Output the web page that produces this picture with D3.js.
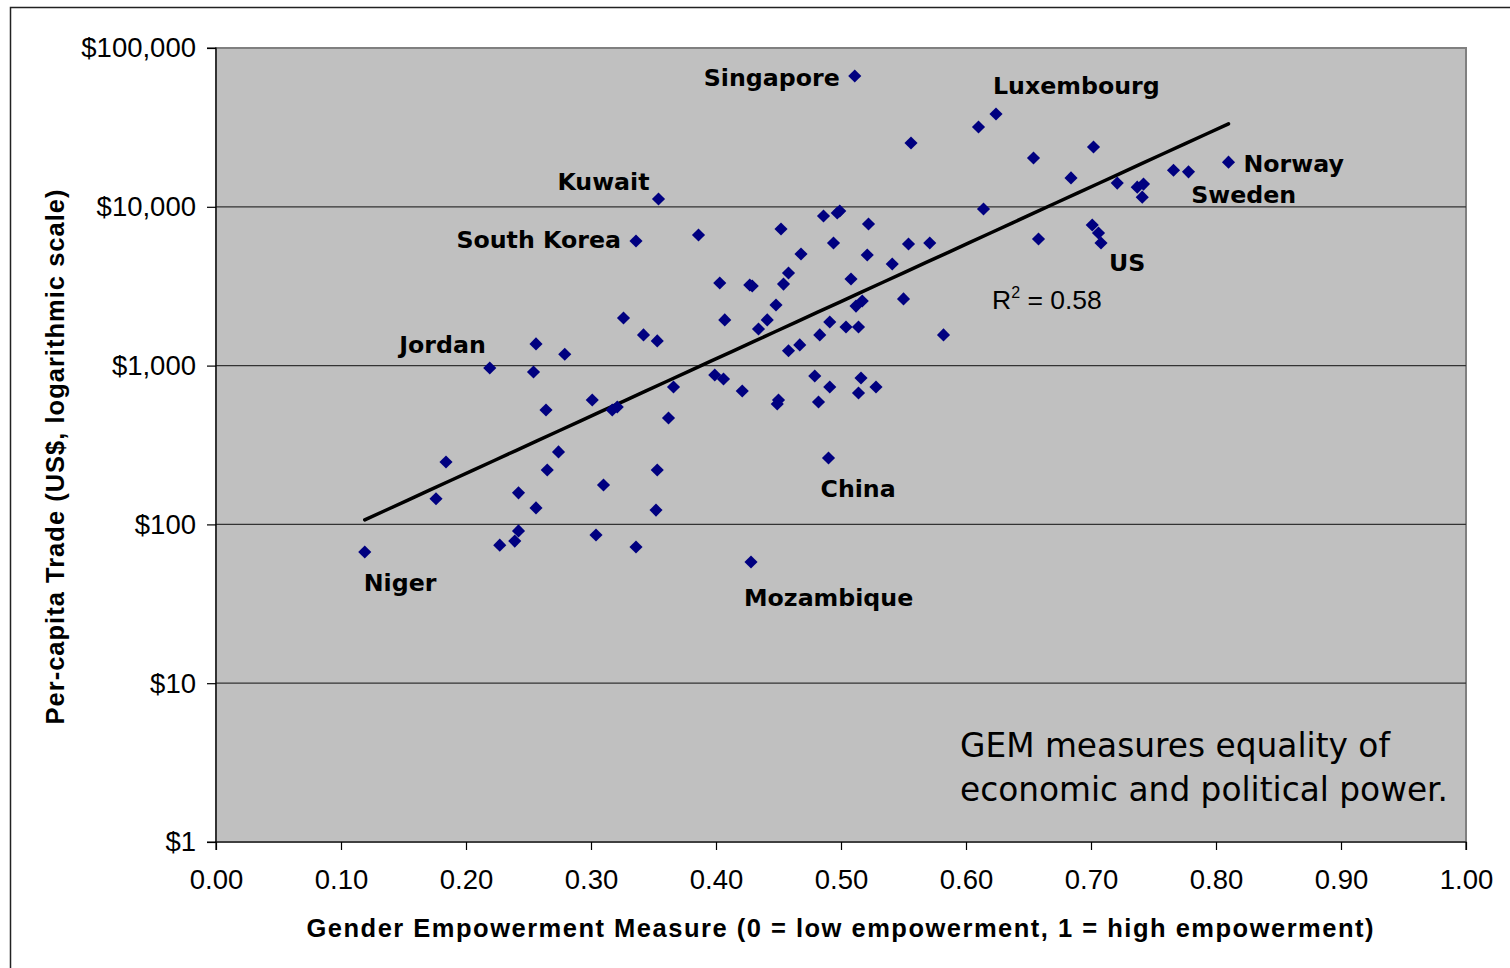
<!DOCTYPE html>
<html lang="en">

<head>
  <meta charset="UTF-8">
  <title>Per-capita Trade vs Gender Empowerment Measure</title>
  <script src="https://d3js.org/d3.v7.min.js"></script>
  <style>
    body { margin: 0; background: #fff; }
    svg { display: block; }
  </style>
</head>

<body>
  <script>
    // GEM value of each country (x)
    const gem = [
      0.511, 0.624, 0.610, 0.556, 0.354, 0.702, 0.654, 0.684, 0.721, 0.766,
      0.778, 0.810, 0.737, 0.742, 0.741, 0.614, 0.486, 0.497, 0.499, 0.522,
      0.452, 0.386, 0.336, 0.494, 0.571, 0.554, 0.658, 0.701, 0.706, 0.708,
      0.468, 0.521, 0.541, 0.458, 0.454, 0.403, 0.427, 0.429, 0.508, 0.448,
      0.550, 0.512, 0.517, 0.326, 0.441, 0.407, 0.491, 0.504, 0.514, 0.434,
      0.342, 0.483, 0.353, 0.467, 0.458, 0.582, 0.256, 0.279, 0.219, 0.254,
      0.479, 0.399, 0.406, 0.516, 0.528, 0.366, 0.491, 0.514, 0.421, 0.301,
      0.449, 0.450, 0.482, 0.317, 0.321, 0.264, 0.362, 0.184, 0.274, 0.265,
      0.353, 0.310, 0.490, 0.176, 0.242, 0.256, 0.352, 0.242, 0.239, 0.227,
      0.304, 0.336, 0.119, 0.428
    ];

    // per-capita trade in US$ (y, log scale)
    const trade = [
      66600, 38400, 31800, 25200, 11200, 23800, 20300, 15200, 14100, 17000,
      16600, 19100, 13300, 13900, 11500, 9680, 8750, 9140, 9410, 7790,
      7250, 6640, 6090, 5920, 5920, 5830, 6270, 7680, 6840, 5920,
      5040, 4970, 4360, 3830, 3260, 3310, 3220, 3170, 3510, 2410,
      2630, 2370, 2550, 1995, 1940, 1940, 1880, 1750, 1750, 1700,
      1560, 1560, 1430, 1350, 1240, 1560, 1370, 1180, 966, 912,
      860, 873, 824, 835, 733, 733, 733, 672, 692, 607,
      573, 607, 590, 525, 549, 525, 468, 247, 286, 220,
      220, 177, 262, 145, 158, 127, 123, 91, 78.5, 74,
      85.7, 72, 67, 58
    ];

    // labelled countries: name and index into the arrays above
    const labelNames = ['Singapore', 'Luxembourg', 'Kuwait', 'South Korea', 'Jordan', 'Niger',
      'Mozambique', 'China', 'US', 'Norway', 'Sweden'];
    const labelIndex = [0, 1, 4, 22, 58, 92, 93, 82, 29, 11, 14];

    const yTicks = [1, 10, 100, 1000, 10000, 100000];
    const xTicks = [0, 0.1, 0.2, 0.3, 0.4, 0.5, 0.6, 0.7, 0.8, 0.9, 1.0];
    const r2Text = '0.58';

    // label placement relative to its point (anchor, dx, dy)
    const labelPos = {
      'Singapore': ['end', -15, 10],
      'Luxembourg': ['start', -3, -20],
      'Kuwait': ['end', -9, -9],
      'South Korea': ['end', -15, 7],
      'Jordan': ['end', -4, -15],
      'Niger': ['start', -1, 39],
      'Mozambique': ['start', -7, 44],
      'China': ['start', -8, 39],
      'US': ['start', 8, 28],
      'Norway': ['start', 15, 10],
      'Sweden': ['start', 49, 6]
    };

    const W = 1510, H = 968;
    const pLeft = 216, pRight = 1466, pTop = 48, pBottom = 842;

    const data = gem.map((g, i) => ({ g: g, t: trade[i] }));

    const x = d3.scaleLinear().domain([0, 1]).range([pLeft, pRight]);
    const y = d3.scaleLog().domain([1, 100000]).range([pBottom, pTop]);

    const svg = d3.select('body').append('svg')
      .attr('width', W)
      .attr('height', H);

    // outer frame
    svg.append('rect')
      .attr('x', 10.5).attr('y', 7.5)
      .attr('width', W + 20).attr('height', H + 20)
      .attr('fill', 'none').attr('stroke', '#222').attr('stroke-width', 1.5);

    // plot area
    svg.append('rect')
      .attr('x', pLeft).attr('y', pTop)
      .attr('width', pRight - pLeft).attr('height', pBottom - pTop)
      .attr('fill', '#c0c0c0').attr('stroke', '#808080').attr('stroke-width', 2);

    // gridlines
    svg.append('g').selectAll('line')
      .data(yTicks.slice(1, -1))
      .enter()
      .append('line')
      .attr('x1', pLeft).attr('x2', pRight)
      .attr('y1', d => y(d)).attr('y2', d => y(d))
      .attr('stroke', '#333').attr('stroke-width', 1.2);

    // axes
    const yAxis = d3.axisLeft(y)
      .tickValues(yTicks)
      .tickFormat(d3.format('$,'))
      .tickSize(9).tickPadding(11);
    const gy = svg.append('g').attr('transform', `translate(${pLeft},0)`).call(yAxis);

    const xAxis = d3.axisBottom(x)
      .tickValues(xTicks)
      .tickFormat(d3.format('.2f'))
      .tickSize(8).tickPadding(19);
    const gx = svg.append('g').attr('transform', `translate(0,${pBottom})`).call(xAxis);

    [gx, gy].forEach(g => {
      g.select('.domain').attr('stroke', '#000').attr('stroke-width', 1.2);
      g.selectAll('.tick line').attr('stroke', '#000').attr('stroke-width', 1.2);
      g.selectAll('text')
        .attr('fill', '#000')
        .style('font-family', '"Liberation Sans", Arial, sans-serif')
        .style('font-size', '27.5px');
    });
    gy.select('.domain').attr('d', `M-9,${pBottom}H0V${pTop}H-9`);
    gx.select('.domain').attr('d', `M${pLeft},8V0H${pRight}V8`);

    // exponential trend line fitted to the points (least squares on ln y)
    const mx = d3.mean(data, d => d.g);
    const my = d3.mean(data, d => Math.log(d.t));
    const b = d3.sum(data, d => (d.g - mx) * (Math.log(d.t) - my)) /
      d3.sum(data, d => (d.g - mx) * (d.g - mx));
    const a = my - b * mx;
    const [gMin, gMax] = d3.extent(data, d => d.g);
    const trend = d3.range(0, 41).map(k => {
      const g = gMin + (gMax - gMin) * k / 40;
      return [g, Math.exp(a + b * g)];
    });

    svg.append('path')
      .datum(trend)
      .attr('d', d3.line().x(d => x(d[0])).y(d => y(d[1])))
      .attr('fill', 'none')
      .attr('stroke', '#000')
      .attr('stroke-width', 3.5)
      .attr('stroke-linecap', 'round');

    // points
    svg.append('g').selectAll('path')
      .data(data)
      .enter()
      .append('path')
      .attr('d', d3.symbol().type(d3.symbolSquare).size(86))
      .attr('transform', d => `translate(${x(d.g)},${y(d.t)}) rotate(45)`)
      .attr('fill', '#000080');

    // country labels
    svg.append('g').selectAll('text')
      .data(labelNames)
      .enter()
      .append('text')
      .attr('x', (d, i) => x(gem[labelIndex[i]]) + labelPos[d][1])
      .attr('y', (d, i) => y(trade[labelIndex[i]]) + labelPos[d][2])
      .attr('text-anchor', d => labelPos[d][0])
      .style('font-family', '"DejaVu Sans", Verdana, sans-serif')
      .style('font-weight', 'bold')
      .style('font-size', '23.7px')
      .attr('fill', '#000')
      .text(d => d);

    // R squared
    const r2 = svg.append('text')
      .attr('x', 992).attr('y', 309)
      .style('font-family', '"Liberation Sans", Arial, sans-serif')
      .style('font-size', '26.5px')
      .attr('fill', '#000');
    r2.append('tspan').text('R');
    r2.append('tspan').attr('dy', -11).style('font-size', '16px').text('2');
    r2.append('tspan').attr('dy', 11).text(' = ' + r2Text);

    // note
    const note = ['GEM measures equality of', 'economic and political power.'];
    const noteLen = [430, 488];
    svg.append('g').selectAll('text')
      .data(note)
      .enter()
      .append('text')
      .attr('x', 960)
      .attr('y', (d, i) => 757 + i * 44)
      .attr('textLength', (d, i) => noteLen[i])
      .attr('lengthAdjust', 'spacingAndGlyphs')
      .style('font-family', '"DejaVu Sans", Tahoma, sans-serif')
      .style('font-size', '33px')
      .attr('fill', '#000')
      .text(d => d);

    // axis titles
    svg.append('text')
      .attr('x', (pLeft + pRight) / 2 - 1)
      .attr('y', 937)
      .attr('text-anchor', 'middle')
      .attr('textLength', 1067)
      .attr('lengthAdjust', 'spacing')
      .style('font-family', '"Liberation Sans", Arial, sans-serif')
      .style('font-weight', 'bold')
      .style('font-size', '25.5px')
      .text('Gender Empowerment Measure (0 = low empowerment, 1 = high empowerment)');

    svg.append('text')
      .attr('transform', 'translate(64,457) rotate(-90)')
      .attr('text-anchor', 'middle')
      .attr('textLength', 535)
      .attr('lengthAdjust', 'spacing')
      .style('font-family', '"Liberation Sans", Arial, sans-serif')
      .style('font-weight', 'bold')
      .style('font-size', '25.5px')
      .text('Per-capita Trade (US$, logarithmic scale)');
  </script>
</body>

</html>
